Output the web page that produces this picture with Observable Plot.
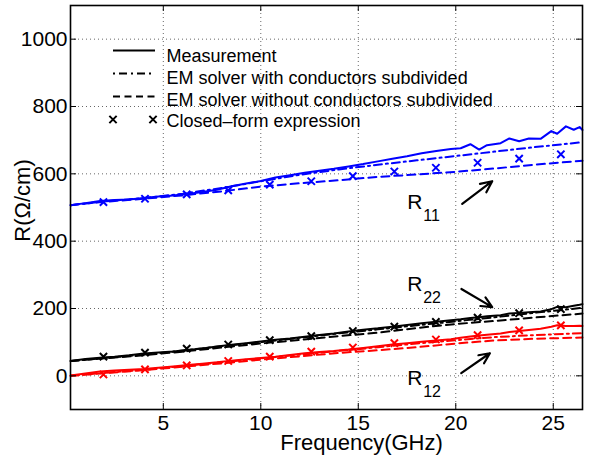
<!DOCTYPE html>
<html><head><meta charset="utf-8">
<script src="https://cdn.jsdelivr.net/npm/d3@7"></script>
<script src="https://cdn.jsdelivr.net/npm/@observablehq/plot@0.6"></script>
<style>
html,body{margin:0;padding:0;background:#fff;}
#chart svg{display:block;}
</style></head><body><div id="chart"></div>
<script>
// ---- data ----
const measFreq = [0.25, 1, 1.75, 2.5, 3.25, 4, 4.75, 5.5, 6.25, 7, 7.75, 8.5, 9.25, 10, 10.75, 11.5, 12.25, 13, 13.75, 14.5, 15.25, 16, 16.75, 17.5, 18.25, 19, 19.75, 20.25, 20.75, 21.2, 21.6, 22.3, 22.75, 23.25, 23.75, 24.35, 24.9, 25.2, 25.65, 26.05, 26.35, 26.5];
const measR11 = [507, 513, 519, 522, 524, 528, 533, 536, 540, 546, 553, 563, 571, 579, 589, 596, 603, 609, 615, 622, 629, 637, 645, 652, 661, 668, 674, 676, 688, 672, 685, 691, 705, 697, 705, 704, 727, 719, 741, 731, 739, 730];
const measR22 = [44, 50, 54, 57, 61, 66, 69, 72, 77, 81, 87, 92, 97, 102, 107, 111, 116, 121, 126, 132, 137, 141, 146, 151, 156, 161, 165, 168, 172, 174, 177, 180, 185, 187, 189, 191, 198, 205, 204, 208, 211, 213];
const measR12 = [1, 7, 13, 16, 18, 20, 24, 28, 32, 36, 40, 45, 49, 53, 57, 62, 67, 71, 74, 78, 83, 88, 93, 97, 101, 105, 109, 113, 117, 120, 122, 126, 130, 133, 136, 140, 146, 150, 148, 148, 149, 148];

const simFreq = [0.25, 2, 4, 6, 8, 10, 12, 14, 16, 18, 20, 22, 24, 26.5];
const withR11 = [507, 518, 528, 541, 558, 578, 597, 613, 627, 640, 653, 666, 679, 694];
const withoutR11 = [507, 517, 526, 536, 548, 562, 572, 581, 591, 598, 606, 616, 627, 639];
const withR22 = [44, 53, 63, 75, 88, 100, 113, 126, 138, 150, 162, 174, 187, 202];
const withoutR22 = [44, 52, 61, 72, 84, 96, 107, 118, 128, 142, 154, 163, 173, 185];
const withR12 = [0, 9, 18, 29, 40, 52, 63, 74, 85, 96, 106, 115, 121, 127];
const withoutR12 = [0, 8, 17, 27, 37, 48, 58, 68, 76, 85, 96, 105, 110, 114];

const cfFreq = [1.93, 4.06, 6.2, 8.33, 10.46, 12.59, 14.72, 16.85, 18.98, 21.12, 23.25, 25.39];
const cfR11 = [516, 526, 539, 551, 568, 578, 593, 607, 618, 633, 645, 658];
const cfR22 = [57, 69, 81, 93, 106, 118, 133, 146, 160, 173, 186, 198];
const cfR12 = [4, 19, 31, 44, 57, 72, 84, 97, 108, 121, 135, 150];

const seriesNames = ["R11", "R22", "R12"];
const seriesColors = ["#0000ff", "#000000", "#ff0000"];
const xTicks = [5, 10, 15, 20, 25];
const yTicks = [0, 200, 400, 600, 800, 1000];
const xLabel = "Frequency(GHz)";
const yLabel = "R(\u03A9/cm)";
const legendLabels = ["Measurement", "EM solver with conductors subdivided", "EM solver without conductors subdivided", "Closed\u2013form expression"];
const annoMain = ["R", "R", "R"];
const annoSub = ["11", "22", "12"];
// annotation anchors (in data units: GHz, Ω/cm)
const annoFreq = [17.51, 17.51, 17.51];
const annoVal = [496, 253, -26];
const arrowFrom = [[20.33, 511], [20.29, 258], [20.28, 8]];
const arrowTo = [[21.87, 578], [21.87, 204], [21.75, 67]];

// ---- layout ----
const W = 592, H = 461, mL = 70, mR = 10, mT = 5, mB = 52;
const innerW = W - mL - mR, innerH = H - mT - mB;
const FONT = "'Liberation Sans', Arial, Helvetica, sans-serif";
const DASH = "8,5", DASHDOT = "8,4,2,4";

const meas = [measR11, measR22, measR12];
const withS = [withR11, withR22, withR12];
const withoutS = [withoutR11, withoutR22, withoutR12];
const cf = [cfR11, cfR22, cfR12];

const seriesMarks = [];
seriesNames.forEach((name, k) => {
  const c = seriesColors[k];
  seriesMarks.push(Plot.line(simFreq.map((f, i) => ({f, v: withoutS[k][i]})), {x: "f", y: "v", stroke: c, strokeWidth: 2, strokeDasharray: DASH}));
  seriesMarks.push(Plot.line(simFreq.map((f, i) => ({f, v: withS[k][i]})), {x: "f", y: "v", stroke: c, strokeWidth: 2, strokeDasharray: DASHDOT}));
  seriesMarks.push(Plot.line(measFreq.map((f, i) => ({f, v: meas[k][i]})), {x: "f", y: "v", stroke: c, strokeWidth: 2}));
  seriesMarks.push(Plot.dot(cfFreq.map((f, i) => ({f, v: cf[k][i]})), {x: "f", y: "v", symbol: "times", r: 3.4, stroke: c, strokeWidth: 2}));
});

const anno = annoMain.map((t, i) => ({t, s: annoSub[i], f: annoFreq[i], v: annoVal[i]}));
const arrows = arrowFrom.map((a, i) => ({x1: a[0], y1: a[1], x2: arrowTo[i][0], y2: arrowTo[i][1]}));

const gridStyle = {stroke: "#000", strokeOpacity: 0.6, strokeDasharray: "1,3", strokeWidth: 1};

const chart = Plot.plot({
  width: W, height: H,
  marginLeft: mL, marginRight: mR, marginTop: mT, marginBottom: mB,
  style: {fontFamily: FONT, fontSize: "21px", background: "#fff", color: "#000", overflow: "visible"},
  x: {domain: [0.24, 26.5]},
  y: {domain: [-100, 1100]},
  marks: [
    Plot.gridX({ticks: xTicks, ...gridStyle}),
    Plot.gridY({ticks: yTicks, ...gridStyle}),
    ...seriesMarks,
    Plot.tickX(xTicks, {x: d => d, insetTop: innerH - 6, stroke: "#000", strokeWidth: 1}),
    Plot.tickX(xTicks, {x: d => d, insetBottom: innerH - 6, stroke: "#000", strokeWidth: 1}),
    Plot.tickY(yTicks, {y: d => d, insetRight: innerW - 6, stroke: "#000", strokeWidth: 1}),
    Plot.tickY(yTicks, {y: d => d, insetLeft: innerW - 6, stroke: "#000", strokeWidth: 1}),
    Plot.frame({stroke: "#000", strokeWidth: 1.6}),
    Plot.axisX({ticks: xTicks, tickSize: 0, tickPadding: 6, fontSize: 21, label: null, tickFormat: d3.format("d")}),
    Plot.axisY({ticks: yTicks, tickSize: 0, tickPadding: 3, fontSize: 21, label: null, tickFormat: d3.format("d")}),
    Plot.text([xLabel], {frameAnchor: "bottom", dx: 35, dy: 40, lineAnchor: "bottom", textAnchor: "middle", fontSize: 22, text: d => d}),
    Plot.text([yLabel], {frameAnchor: "left", rotate: -90, dx: -41, dy: -7, lineAnchor: "bottom", textAnchor: "middle", fontSize: 22, text: d => d}),
    Plot.text(anno, {x: "f", y: "v", text: "t", textAnchor: "start", lineAnchor: "bottom", fontSize: 21}),
    Plot.text(anno, {x: "f", y: "v", text: "s", textAnchor: "start", lineAnchor: "bottom", fontSize: 16, dx: 16, dy: 12}),
    Plot.arrow(arrows, {x1: "x1", y1: "y1", x2: "x2", y2: "y2", stroke: "#000", strokeWidth: 2.2, headLength: 10, headAngle: 50})
  ]
});

// ---- legend (inside the axes, no box) ----
const svg = d3.select(chart);
const lg = svg.append("g").attr("font-family", FONT).attr("font-size", 18).attr("text-anchor", "start");
const rowText = [61.5, 83.5, 105.5, 127];
const rowLine = [50.5, 73.5, 96.5, 119.5];
legendLabels.forEach((lab, i) => {
  if (i < 3) {
    const l = lg.append("line").attr("x1", 113).attr("x2", 155).attr("y1", rowLine[i]).attr("y2", rowLine[i])
      .attr("stroke", "#000").attr("stroke-width", 2);
    if (i === 1) l.attr("stroke-dasharray", "2,4,8,4");
    if (i === 2) l.attr("stroke-dasharray", "7,4.5");
  } else {
    const sym = d3.symbol(d3.symbolTimes, Math.PI * 3.4 * 3.4)();
    [113, 153].forEach(cx => lg.append("path").attr("d", sym).attr("transform", `translate(${cx},${rowLine[i]})`)
      .attr("fill", "none").attr("stroke", "#000").attr("stroke-width", 2));
  }
  lg.append("text").attr("x", 166.5).attr("y", rowText[i]).attr("fill", "#000").attr("text-anchor", "start").text(lab);
});

document.getElementById("chart").append(chart);
</script>
</body></html>
